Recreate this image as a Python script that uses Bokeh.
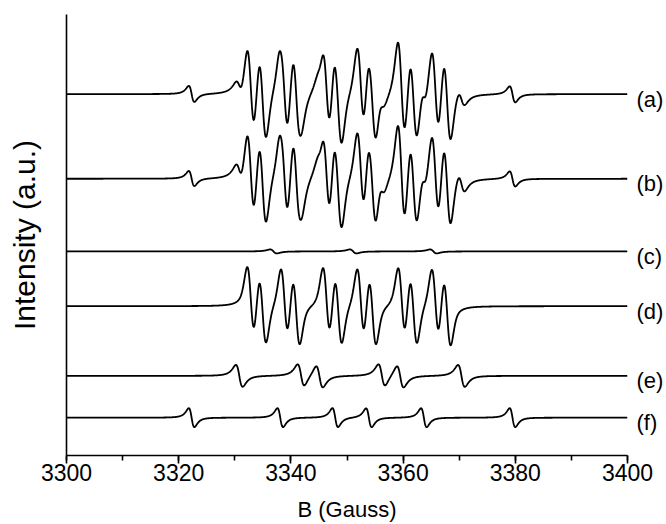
import numpy as np
from bokeh.plotting import figure
from bokeh.models import Range1d, SingleIntervalTicker, FixedTicker, LinearAxis
from bokeh.embed import file_html
from bokeh.resources import INLINE

# ---- data ----
# line positions (Gauss) of the component spectra
d_lines = [3332.86, 3334.94, 3338.86, 3340.94, 3346.36, 3348.44,
           3352.46, 3354.54, 3359.76, 3361.84, 3365.76, 3367.84]
e_lines = [3330.8, 3341.8, 3345.1, 3356.2, 3359.5, 3370.4]
f_lines = [3322.3, 3338.1, 3347.9, 3353.9, 3363.7, 3379.5]
c_lines = [3336.9, 3351.1, 3365.4]

# peak-to-peak amplitudes (a.u.), peak-to-peak widths (G), Lorentzian fraction
d_amp, d_width, d_lor = 72.0, 1.3, 0.5
e_amp, e_width, e_lor = 22.0, 1.2, 1.0
f_amp, f_width, f_lor = 19.0, 1.0, 1.0
c_amp, c_width, c_lor = 4.0, 1.2, 1.0

# weights of the components (d, e, f) in the composite spectra (a) and (b)
a_weights = [1.2, 0.7, 0.85]
b_weights = [1.2, 0.85, 0.8]

trace_labels = ["(a)", "(b)", "(c)", "(d)", "(e)", "(f)"]
trace_offsets = [363, 278, 205, 150, 80, 38]

field = np.arange(3300.0, 3400.0001, 0.05)


def dline(c, w, amp, eta):
    g = w * np.sqrt(3) / 2
    u = (field - c) / g
    lor = (-u / (1 + u ** 2) ** 2) / 0.6495
    s = w / 2
    v = (field - c) / s
    gau = (-v * np.exp(-v ** 2 / 2)) / 1.2131
    return amp * (eta * lor + (1 - eta) * gau)


def spectrum(lines, amp, width, eta):
    s = np.zeros_like(field)
    for c in lines:
        s += dline(c, width, amp, eta)
    return s


D = spectrum(d_lines, d_amp, d_width, d_lor)
E = spectrum(e_lines, e_amp, e_width, e_lor)
F = spectrum(f_lines, f_amp, f_width, f_lor)
C = spectrum(c_lines, c_amp, c_width, c_lor)
A = a_weights[0] * D + a_weights[1] * E + a_weights[2] * F
Bs = b_weights[0] * D + b_weights[1] * E + b_weights[2] * F

traces = [A, Bs, C, D, E, F]

p = figure(width=666, height=524, output_backend="svg", toolbar_location=None,
           x_range=Range1d(3300, 3400), y_range=Range1d(0, 443),
           min_border_left=66, min_border_right=38, min_border_top=14,
           min_border_bottom=67)
p.outline_line_color = None
p.grid.visible = False
p.background_fill_color = "white"
p.border_fill_color = "white"

for tr, off in zip(traces, trace_offsets):
    p.line(field, tr + off, line_color="black", line_width=1.8)

FONT = "Liberation Sans"

xa = p.xaxis[0]
xa.ticker = SingleIntervalTicker(interval=20, num_minor_ticks=2)
xa.axis_line_width = 1.6
xa.axis_line_color = "black"
xa.major_tick_line_width = 1.6
xa.minor_tick_line_width = 1.6
xa.major_tick_line_color = "black"
xa.minor_tick_line_color = "black"
xa.major_tick_in = 0
xa.major_tick_out = 8
xa.minor_tick_in = 0
xa.minor_tick_out = 5
xa.major_label_text_font = FONT
xa.major_label_text_font_size = "23px"
xa.major_label_text_color = "black"
xa.major_label_standoff = 0
xa.axis_label = "B (Gauss)"
xa.axis_label_text_font = FONT
xa.axis_label_text_font_size = "22px"
xa.axis_label_text_font_style = "normal"
xa.axis_label_text_color = "black"
xa.axis_label_standoff = 13

ya = p.yaxis[0]
ya.ticker = FixedTicker(ticks=[])
ya.axis_line_width = 1.6
ya.axis_line_color = "black"
ya.major_tick_out = 0
ya.major_tick_in = 0
ya.minor_tick_out = 0
ya.minor_tick_in = 0
ya.major_label_text_font_size = "0px"
ya.axis_label = "Intensity (a.u.)"
ya.axis_label_text_font = FONT
ya.axis_label_text_font_size = "30px"
ya.axis_label_text_font_style = "normal"
ya.axis_label_text_color = "black"
ya.axis_label_standoff = 26

label_pos = [off - 5 for off in trace_offsets]
ra = LinearAxis(ticker=FixedTicker(ticks=label_pos),
                major_label_overrides={pos: lab for pos, lab in zip(label_pos, trace_labels)})
ra.axis_line_color = None
ra.major_tick_out = 0
ra.major_tick_in = 0
ra.minor_tick_out = 0
ra.minor_tick_in = 0
ra.major_label_standoff = 9
ra.major_label_text_font = FONT
ra.major_label_text_font_size = "22px"
ra.major_label_text_color = "black"
p.add_layout(ra, "right")

open("out.html", "w").write(file_html(p, INLINE))
